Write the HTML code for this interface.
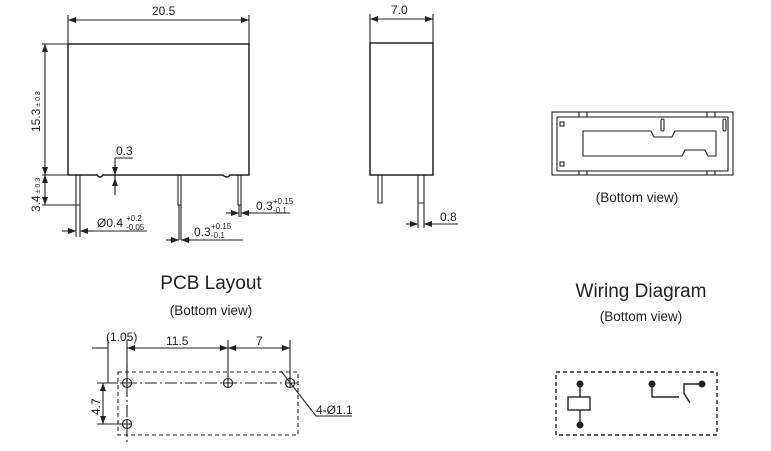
<!DOCTYPE html>
<html><head><style>body{margin:0;background:#fff}svg{display:block}</style></head><body>
<svg width="771" height="451" viewBox="0 0 771 451" xmlns="http://www.w3.org/2000/svg" font-family="Liberation Sans, sans-serif">
<defs><marker id="a" markerWidth="8" markerHeight="6" refX="8" refY="3" orient="auto" markerUnits="userSpaceOnUse"><path d="M0,0L8,3L0,6Z" fill="#222"/></marker></defs>
<g stroke="#222" fill="none" stroke-width="1.1">
<path d="M68,44H249V175H230Q227,179 223,175H103Q100,179 97,175H68Z" stroke-width="1.5"/>
<path d="M68,44V15M249,44V15M42,44H68M42,175H80M42,205H78"/>
<line x1="160" y1="20" x2="68" y2="20" marker-end="url(#a)"/><line x1="160" y1="20" x2="249" y2="20" marker-end="url(#a)"/>
<line x1="45" y1="100" x2="45" y2="44" marker-end="url(#a)"/><line x1="45" y1="100" x2="45" y2="175" marker-end="url(#a)"/>
<line x1="45" y1="190" x2="45" y2="175" marker-end="url(#a)"/><line x1="45" y1="190" x2="45" y2="205" marker-end="url(#a)"/>
<path d="M76,175V205H80V175M178,175V205h3V175M238,175V205h3V175"/>
<path d="M76,205V237M80,205V237M179,205V240M181,205V240M239,205V217M241,205V217"/>
<line x1="62" y1="231" x2="76" y2="231" marker-end="url(#a)"/><line x1="94" y1="231" x2="80" y2="231" marker-end="url(#a)"/><path d="M94,231H147"/>
<line x1="166" y1="240" x2="179" y2="240" marker-end="url(#a)"/><line x1="194" y1="240" x2="181" y2="240" marker-end="url(#a)"/><path d="M194,240H243"/>
<line x1="226" y1="213" x2="239" y2="213" marker-end="url(#a)"/><line x1="254" y1="213" x2="241" y2="213" marker-end="url(#a)"/><path d="M254,213H290"/>
<path d="M115,158H133M115,158V195"/><line x1="115" y1="165" x2="115" y2="175" marker-end="url(#a)"/><line x1="115" y1="190" x2="115" y2="178" marker-end="url(#a)"/>
<rect x="370" y="43" width="63" height="132" stroke-width="1.5"/>
<path d="M370,43V14M433,43V14M378,175V203H382V175M418,175V203H424V175M418,203V228M424,203V228"/>
<line x1="400" y1="19" x2="370" y2="19" marker-end="url(#a)"/><line x1="400" y1="19" x2="433" y2="19" marker-end="url(#a)"/>
<line x1="406" y1="224" x2="418" y2="224" marker-end="url(#a)"/><line x1="436" y1="224" x2="424" y2="224" marker-end="url(#a)"/><path d="M436,224H458"/>
<rect x="552" y="112" width="181" height="63"/><rect x="557" y="117" width="171" height="54"/>
<path d="M579,112v5M587,112v5M707,112v5M715,112v5M579,171v4M587,171v4M707,171v4M715,171v4"/>
<rect x="560" y="122" width="4" height="4"/><rect x="560" y="162" width="4" height="4"/>
<rect x="661" y="119" width="3" height="12" rx="1.5"/><rect x="723" y="119" width="3" height="12" rx="1.5"/>
<path d="M583,131H651L654,137H672L675,131H716V156H708L705,150H685L682,156H583Z"/>
<rect x="118" y="372" width="180" height="63" stroke-dasharray="4,3"/>
<path d="M105,383H300M127,365V442" stroke-dasharray="12,3,2,3"/>
<path d="M108,340V383M127,340V383M228,340V383M290,340V380M97,424H127M97,383H118"/>
<line x1="92" y1="348" x2="108" y2="348"/><line x1="148" y1="348" x2="127" y2="348" marker-end="url(#a)"/><line x1="148" y1="348" x2="228" y2="348" marker-end="url(#a)"/>
<line x1="260" y1="348" x2="228" y2="348" marker-end="url(#a)"/><line x1="260" y1="348" x2="290" y2="348" marker-end="url(#a)"/>
<line x1="103" y1="405" x2="103" y2="383" marker-end="url(#a)"/><line x1="103" y1="405" x2="103" y2="424" marker-end="url(#a)"/>
<circle cx="127" cy="383" r="4.5"/><circle cx="228" cy="383" r="4.5"/><circle cx="290" cy="383" r="4.5"/><circle cx="127" cy="424" r="4.5"/>
<path d="M122,383h10M127,378v10M223,383h10M228,378v10M285,383h10M290,378v10M122,424h10M127,419v10"/>
<path d="M281,371L316,416H352"/>
<rect x="556" y="372" width="161" height="63" stroke-dasharray="4,3" stroke-width="1.4"/>
<path d="M580,384V397M580,410V425M652,384V397H679M690,403L684,393V384H702" stroke-width="1.4"/>
<rect x="568" y="397" width="22" height="13" stroke-width="1.4"/>
</g>
<g fill="#222"><circle cx="580" cy="384" r="3.5"/><circle cx="580" cy="425" r="3.5"/><circle cx="652" cy="384" r="3.5"/><circle cx="702" cy="384" r="3.5"/></g>
<g fill="#222" font-size="12">
<text x="152" y="15">20.5</text><text x="391" y="14">7.0</text>
<text x="116" y="155">0.3</text>
<text transform="translate(40,132) rotate(-90)">15.3<tspan font-size="7"> ± 0.3</tspan></text>
<text transform="translate(40,212) rotate(-90)">3.4<tspan font-size="7"> ± 0.3</tspan></text>
<text x="97" y="227">Ø0.4</text><text x="126" y="221" font-size="8">+0.2</text><text x="126" y="230" font-size="8">-0.05</text>
<text x="194" y="236">0.3</text><text x="211" y="229" font-size="8">+0.15</text><text x="211" y="238" font-size="8">-0.1</text>
<text x="256" y="210">0.3</text><text x="273" y="204" font-size="8">+0.15</text><text x="273" y="213" font-size="8">-0.1</text>
<text x="440" y="221">0.8</text>
<text x="637" y="202" text-anchor="middle" font-size="13.5">(Bottom view)</text>
<text x="211" y="289" text-anchor="middle" font-size="19">PCB Layout</text>
<text x="211" y="315" text-anchor="middle" font-size="13.5">(Bottom view)</text>
<text x="641" y="297" text-anchor="middle" font-size="19">Wiring Diagram</text>
<text x="641" y="321" text-anchor="middle" font-size="13.5">(Bottom view)</text>
<text x="106" y="341">(1.05)</text><text x="166" y="345">11.5</text><text x="256" y="345">7</text>
<text transform="translate(100,415) rotate(-90)">4.7</text>
<text x="316" y="414">4-Ø1.1</text>
</g>
</svg>
</body></html>
